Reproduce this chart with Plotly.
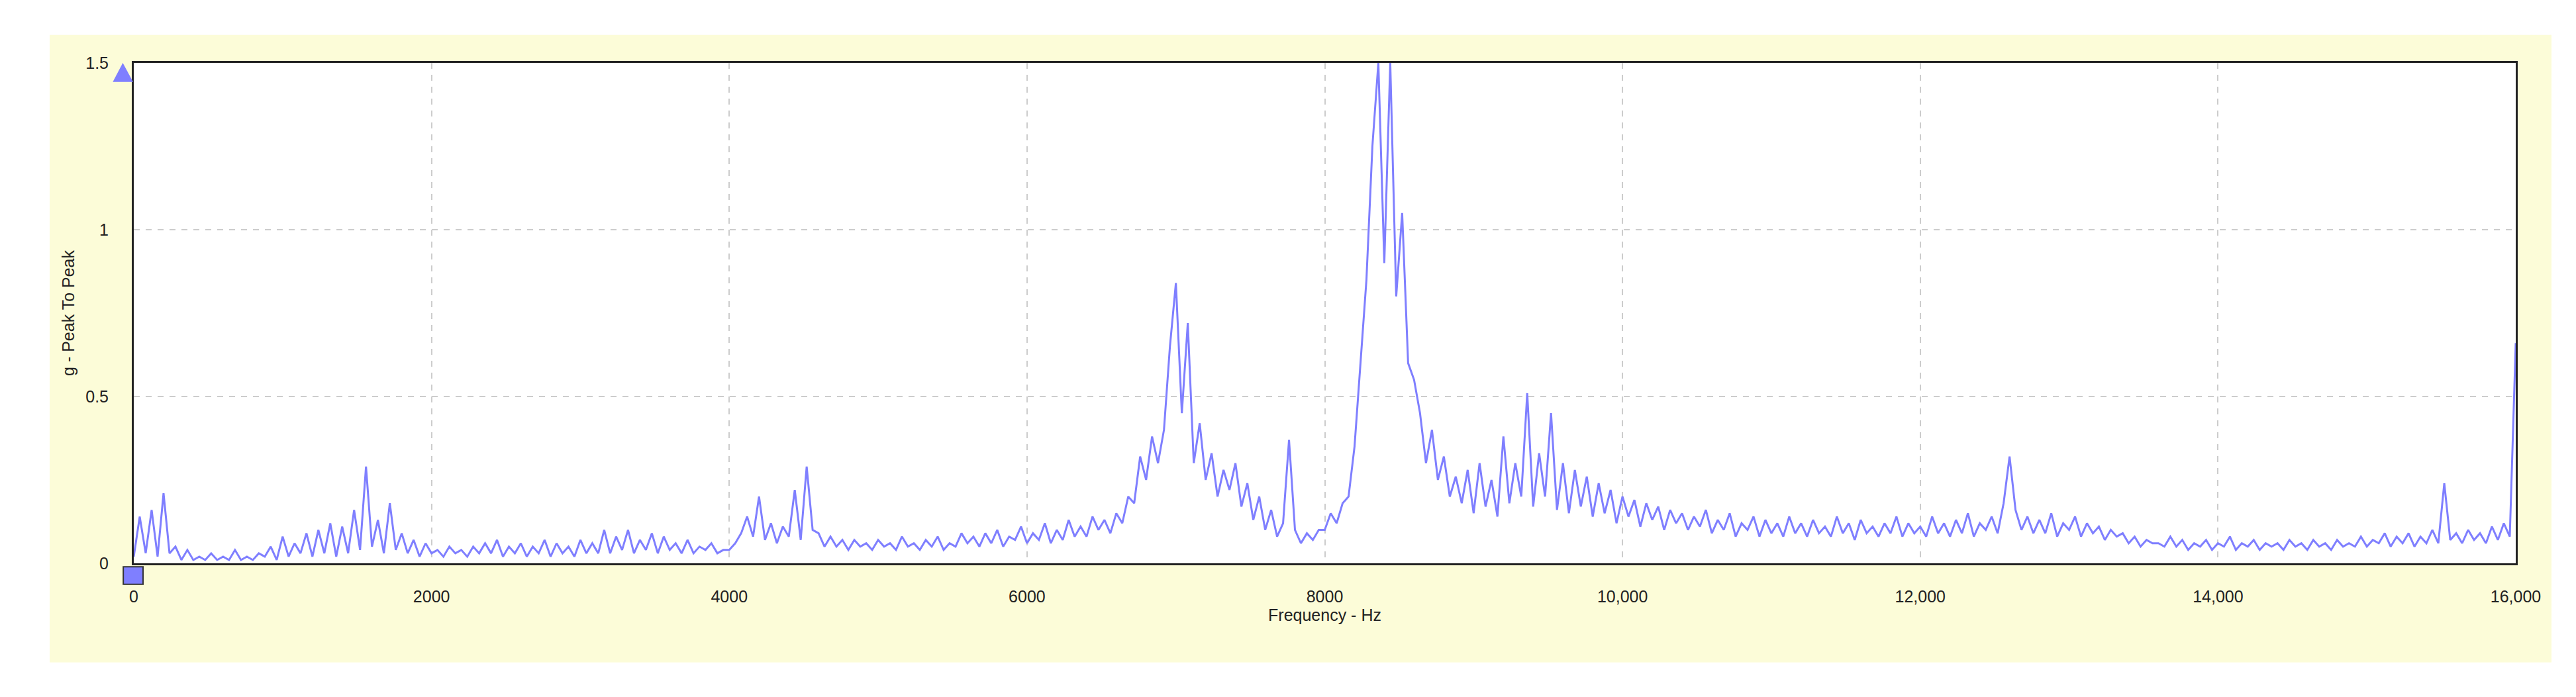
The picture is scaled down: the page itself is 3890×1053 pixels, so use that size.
import plotly.graph_objects as go

# spectrum, 40 Hz bins, 0..16000 Hz
step_hz = 40
amp = [
    0.02, 0.14, 0.03, 0.16, 0.02, 0.21, 0.03, 0.05, 0.01, 0.04, 0.01, 0.02, 0.01, 0.03, 0.01, 0.02, 0.01, 0.04, 0.01, 0.02,
    0.01, 0.03, 0.02, 0.05, 0.01, 0.08, 0.02, 0.06, 0.03, 0.09, 0.02, 0.10, 0.03, 0.12, 0.02, 0.11, 0.03, 0.16, 0.04, 0.29,
    0.05, 0.13, 0.03, 0.18, 0.04, 0.09, 0.03, 0.07, 0.02, 0.06, 0.03, 0.04, 0.02, 0.05, 0.03, 0.04, 0.02, 0.05, 0.03, 0.06,
    0.03, 0.07, 0.02, 0.05, 0.03, 0.06, 0.02, 0.05, 0.03, 0.07, 0.02, 0.06, 0.03, 0.05, 0.02, 0.07, 0.03, 0.06, 0.03, 0.10,
    0.03, 0.08, 0.04, 0.10, 0.03, 0.07, 0.04, 0.09, 0.03, 0.08, 0.04, 0.06, 0.03, 0.07, 0.03, 0.05, 0.04, 0.06, 0.03, 0.04,
    0.04, 0.06, 0.09, 0.14, 0.08, 0.20, 0.07, 0.12, 0.06, 0.11, 0.08, 0.22, 0.07, 0.29, 0.10, 0.09, 0.05, 0.08, 0.05, 0.07,
    0.04, 0.07, 0.05, 0.06, 0.04, 0.07, 0.05, 0.06, 0.04, 0.08, 0.05, 0.06, 0.04, 0.07, 0.05, 0.08, 0.04, 0.06, 0.05, 0.09,
    0.06, 0.08, 0.05, 0.09, 0.06, 0.10, 0.05, 0.08, 0.07, 0.11, 0.06, 0.09, 0.07, 0.12, 0.06, 0.10, 0.07, 0.13, 0.08, 0.11,
    0.08, 0.14, 0.10, 0.13, 0.09, 0.15, 0.12, 0.20, 0.18, 0.32, 0.25, 0.38, 0.30, 0.40, 0.65, 0.84, 0.45, 0.72, 0.30, 0.42,
    0.25, 0.33, 0.20, 0.28, 0.22, 0.30, 0.17, 0.24, 0.13, 0.20, 0.10, 0.16, 0.08, 0.12, 0.37, 0.10, 0.06, 0.09, 0.07, 0.10,
    0.10, 0.15, 0.12, 0.18, 0.20, 0.35, 0.60, 0.85, 1.25, 1.50, 0.90, 1.50, 0.80, 1.05, 0.60, 0.55, 0.45, 0.30, 0.40, 0.25,
    0.32, 0.20, 0.26, 0.18, 0.28, 0.15, 0.30, 0.17, 0.25, 0.14, 0.38, 0.18, 0.30, 0.20, 0.51, 0.17, 0.33, 0.20, 0.45, 0.16,
    0.30, 0.15, 0.28, 0.17, 0.26, 0.14, 0.24, 0.15, 0.22, 0.12, 0.20, 0.14, 0.19, 0.11, 0.18, 0.13, 0.17, 0.10, 0.16, 0.12,
    0.15, 0.10, 0.14, 0.11, 0.16, 0.09, 0.13, 0.10, 0.15, 0.08, 0.12, 0.10, 0.14, 0.08, 0.13, 0.09, 0.12, 0.08, 0.14, 0.09,
    0.12, 0.08, 0.13, 0.09, 0.11, 0.08, 0.14, 0.09, 0.12, 0.07, 0.13, 0.09, 0.11, 0.08, 0.12, 0.09, 0.14, 0.08, 0.12, 0.09,
    0.11, 0.08, 0.14, 0.09, 0.12, 0.08, 0.13, 0.09, 0.15, 0.08, 0.12, 0.10, 0.14, 0.09, 0.18, 0.32, 0.16, 0.10, 0.14, 0.09,
    0.13, 0.09, 0.15, 0.08, 0.12, 0.10, 0.14, 0.08, 0.12, 0.09, 0.11, 0.07, 0.10, 0.08, 0.09, 0.06, 0.08, 0.05, 0.07, 0.06,
    0.06, 0.05, 0.08, 0.05, 0.07, 0.04, 0.06, 0.05, 0.07, 0.04, 0.06, 0.05, 0.08, 0.04, 0.06, 0.05, 0.07, 0.04, 0.06, 0.05,
    0.06, 0.04, 0.07, 0.05, 0.06, 0.04, 0.07, 0.05, 0.06, 0.04, 0.07, 0.05, 0.06, 0.05, 0.08, 0.05, 0.07, 0.06, 0.09, 0.05,
    0.08, 0.06, 0.09, 0.05, 0.08, 0.06, 0.10, 0.06, 0.24, 0.07, 0.09, 0.06, 0.10, 0.07, 0.09, 0.06, 0.11, 0.07, 0.12, 0.08,
    0.66,
]
freq = [i * step_hz for i in range(len(amp))]

x_ticks = [0, 2000, 4000, 6000, 8000, 10000, 12000, 14000, 16000]
x_labels = ["0", "2000", "4000", "6000", "8000", "10,000", "12,000", "14,000", "16,000"]
y_ticks = [0, 0.5, 1, 1.5]
y_labels = ["0", "0.5", "1", "1.5"]

fig = go.Figure()
fig.add_trace(go.Scatter(x=freq, y=amp, mode="lines",
                         line=dict(color="#7f7fff", width=3), showlegend=False))

# yellow panel behind the plot, white plot area on top of it
fig.add_shape(type="rect", xref="paper", yref="paper",
              x0=-0.0353, x1=1.015, y0=-0.198, y1=1.056,
              fillcolor="#fcfcd8", line_width=0, layer="below")
fig.add_shape(type="rect", xref="paper", yref="paper",
              x0=0, x1=1, y0=0, y1=1,
              fillcolor="white", line_width=0, layer="below")
# cursor markers
fig.add_shape(type="path", xref="paper", yref="paper",
              path="M -0.0088 0.962 L -0.0003 0.962 L -0.0046 1.0 Z",
              fillcolor="#7f7fff", line_width=0)
fig.add_shape(type="rect", xref="paper", yref="paper",
              x0=-0.0044, x1=0.0039, y0=-0.042, y1=-0.007,
              fillcolor="#7f7fff", line=dict(color="#333", width=2))

axis_font = dict(family="Arial, Liberation Sans", size=25, color="#222")
fig.update_xaxes(range=[0, 16000], tickvals=x_ticks, ticktext=x_labels,
                 showgrid=True, gridcolor="#cccccc", griddash="dash", gridwidth=2,
                 showline=True, linecolor="#222", linewidth=3, mirror=True,
                 zeroline=False, ticks="", tickfont=axis_font, ticklabelstandoff=26,
                 title=dict(text="Frequency - Hz", font=axis_font, standoff=6))
fig.update_yaxes(range=[0, 1.5], tickvals=y_ticks, ticktext=y_labels,
                 showgrid=True, gridcolor="#cccccc", griddash="dash", gridwidth=2,
                 showline=True, linecolor="#222", linewidth=3, mirror=True,
                 zeroline=False, ticks="", tickfont=axis_font, ticklabelstandoff=30,
                 title=dict(text="g - Peak To Peak", font=axis_font, standoff=10))
fig.update_layout(width=3890, height=1053,
                  margin=dict(l=194, r=99, t=87, b=210),
                  paper_bgcolor="white", plot_bgcolor="white")

fig.write_html("out.html")
